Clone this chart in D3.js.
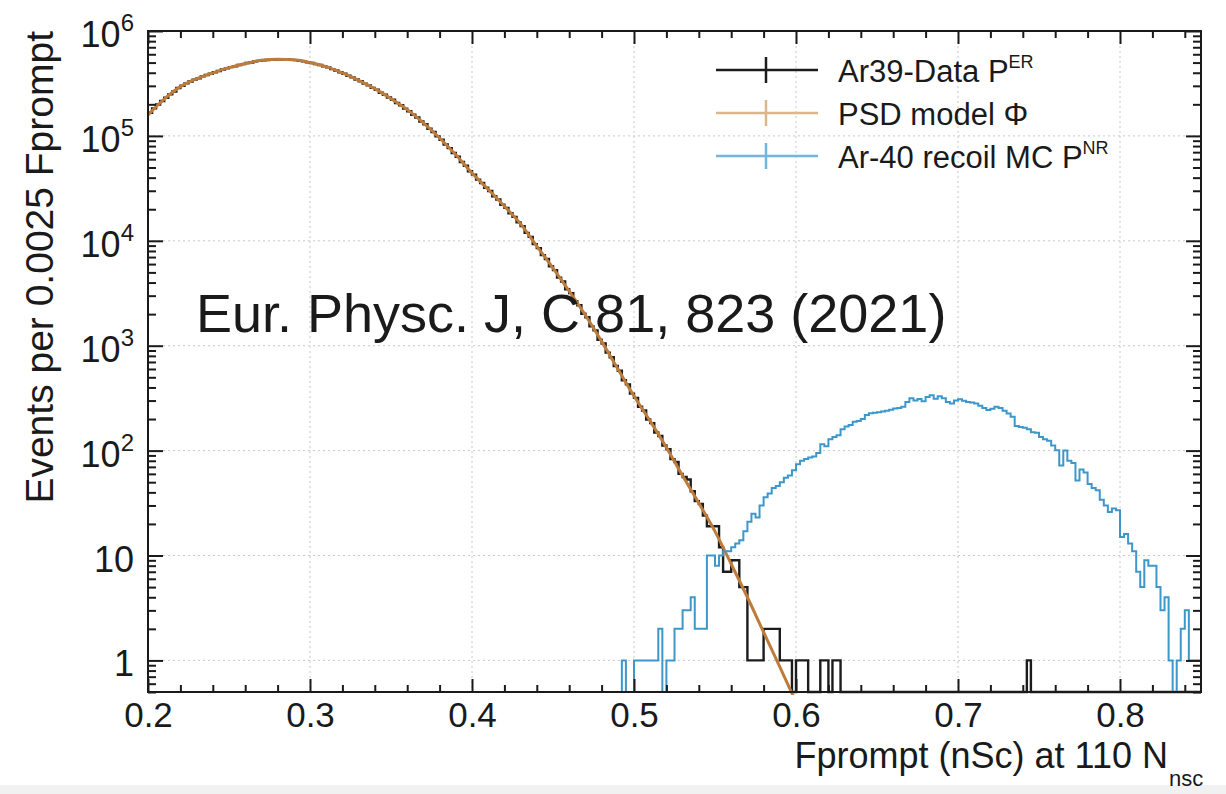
<!DOCTYPE html>
<html>
<head>
<meta charset="utf-8">
<script src="https://cdn.jsdelivr.net/npm/d3@7"></script>
<style>
  body { margin: 0; background: #fff; }
  svg text { font-family: "Liberation Sans", Arial, Helvetica, sans-serif; fill: #1a1a1a; }
</style>
</head>
<body>
<svg id="chart" width="1226" height="794"></svg>
<script>
const binWidth = 0.0025;

// Ar39 data, one count per 0.0025 bin, first bin starts at 0.2000
const ar39Start = 0.2;
const ar39Counts = [
  166000, 183000, 199000, 215000,  231000, 249000, 265000, 286000,
  301000, 317000, 330000, 344000,  355000, 369000, 381000, 391000,
  405000, 415000, 429000, 440000,  453000, 461000, 474000, 483000,
  495000, 501000, 513000, 519000,  527000, 529000, 533000, 535000,
  538000, 535000, 536000, 531000,  528000, 519000, 513000, 504000,
  496000, 483000, 474000, 461000,  450000, 433000, 420000, 404000,
  391000, 374000, 361000, 345000,  332000, 315000, 303000, 287000,
  275000, 258000, 247000, 232000,  221000, 206000, 196000, 182000,
  172000, 159000, 150000, 137000,  129000, 117000, 109000, 99000,
  91800, 82700, 76400, 68800,      63300, 56400, 51900, 46100,
  42700, 38300, 35600, 32000,      29800, 26600, 24800, 22100,
  20600, 18300, 16900, 15000,      13800, 11900, 10900, 9300,
  8520, 7310, 6700, 5720,          5250, 4460, 4090, 3450,
  3170, 2650, 2430, 2020,          1870, 1530, 1400, 1140,
  1050, 860, 775, 640,             578, 468, 428, 349,
  318, 262, 241, 198,              183, 149, 138, 112,
  103, 83, 78, 60,                 56, 53, 41, 33,
  31, 24, 19, 19,                  19, 12, 7, 7,
  9, 9, 5, 5,                      1, 1, 1, 1,
  2, 2, 2, 2,                      1, 1, 1, 0,
  1, 1, 1, 0,                      0, 0, 1, 1,
  0, 1, 1, 0
];
// isolated Ar39 bins further out: [bin start, count]
const ar39Extra = [[0.7425, 1]];

// Ar-40 recoil MC, one count per 0.0025 bin, first bin starts at 0.4900
const ar40Start = 0.49;
const ar40Counts = [
  0, 1, 0, 0,        1, 1, 1, 1,        1, 1, 2, 0,        1, 1, 2, 2,
  3, 3, 4, 2,        2, 2, 10, 10,      8, 10, 11, 11,     12, 13, 14, 17,
  21, 25, 23, 30,    36, 39, 44, 46,    50, 55, 58, 65,    74, 80, 83, 86,
  88, 95, 115, 110,  128, 135, 140, 160, 170, 175, 188, 192, 200, 218, 227, 230,
  232, 236, 240, 245, 252, 255, 262, 290, 316, 300, 310, 296, 325, 338, 312, 330,
  316, 290, 282, 300, 309, 298, 290, 288, 282, 268, 255, 244, 250, 262, 255, 240,
  226, 210, 172, 168, 165, 160, 150, 148, 135, 128, 124, 112, 101, 72, 100, 80,
  76, 52, 66, 62,    48, 44, 42, 34,    30, 26, 28, 27,    15, 16, 13, 11,
  7, 5, 9, 8,        8, 5, 3, 4,        1, 0, 1, 2,        3, 1, 1, 1
];

// PSD model curve
const psdX = [0.20, 0.21, 0.22, 0.23, 0.24, 0.25, 0.26, 0.27, 0.28, 0.29,
              0.30, 0.31, 0.32, 0.33, 0.34, 0.35, 0.36, 0.37, 0.38, 0.39,
              0.40, 0.41, 0.42, 0.43, 0.44, 0.45, 0.46, 0.47, 0.48, 0.49,
              0.50, 0.51, 0.52, 0.53, 0.54, 0.55, 0.56, 0.57, 0.58, 0.59, 0.60];
const psdY = [158500, 224000, 295000, 351000, 398000, 447000, 490000, 525000, 537000, 531000,
              501000, 457000, 398000, 339000, 282000, 226000, 178000, 133000, 95500, 66100,
              44200, 30900, 21400, 14500, 8900, 5500, 3310, 1950, 1100, 603,
              331, 191, 107, 57.5, 31.6, 17.0, 8.3, 4.0, 1.86, 0.87, 0.40];

const xTicks = [0.2, 0.3, 0.4, 0.5, 0.6, 0.7, 0.8];
const yTicks = [1, 10, 100, 1000, 10000, 100000, 1000000];
const legendLabels = [["Ar39-Data P", "ER"], ["PSD model \u03a6", ""], ["Ar-40 recoil MC P", "NR"]];
const legendColors = ["#1c1c1c", "#dab68d", "#74b5dc"];

const svg = d3.select("#chart");
const x = d3.scaleLinear().domain([0.2, 0.85]).range([148, 1201]);
const y = d3.scaleLog().domain([0.5, 1e6]).range([692, 31]);
const bottom = y.range()[0];
const yc = c => c > 0 ? y(c) : bottom;

svg.append("rect").attr("x", 0).attr("y", 785).attr("width", 1226).attr("height", 9).attr("fill", "#f1f1f1");

svg.append("defs").append("clipPath").attr("id", "plot-clip")
  .append("rect").attr("x", 148).attr("y", 31).attr("width", 1053).attr("height", 664);

// grid
const grid = svg.append("g").attr("stroke", "#c8c8c8").attr("stroke-width", 1).attr("stroke-dasharray", "2,3");
grid.selectAll("line.gx").data(xTicks.slice(1)).join("line")
  .attr("x1", d => x(d)).attr("x2", d => x(d)).attr("y1", 31).attr("y2", bottom);
grid.selectAll("line.gy").data(yTicks.slice(0, -1)).join("line")
  .attr("x1", 148).attr("x2", 1201).attr("y1", d => y(d)).attr("y2", d => y(d));

// histograms
const nBins = Math.round((0.85 - 0.2) / binWidth);
function makeBins(start, counts, extra) {
  const off = Math.round((start - 0.2) / binWidth);
  const bins = d3.range(nBins).map(i => ({ lo: 0.2 + i * binWidth, c: counts[i - off] || 0 }));
  (extra || []).forEach(([lo, c]) => { bins[Math.round((lo - 0.2) / binWidth)].c = c; });
  return bins;
}
const stepLine = d3.line().curve(d3.curveStepAfter);
function stepPath(bins) {
  const pts = bins.map(b => [x(b.lo), yc(b.c)]);
  pts.push([x(0.85), yc(bins[bins.length - 1].c)]);
  return stepLine(pts);
}

const plot = svg.append("g").attr("clip-path", "url(#plot-clip)").attr("fill", "none");

plot.append("path").attr("d", stepPath(makeBins(ar39Start, ar39Counts, ar39Extra)))
  .attr("stroke", "#1c1c1c").attr("stroke-width", 2.4);

const psdLine = d3.line().x(d => x(d[0])).y(d => y(d[1])).curve(d3.curveMonotoneX);
plot.append("path").attr("d", psdLine(psdX.map((v, i) => [v, psdY[i]])))
  .attr("stroke", "#bd7c3c").attr("stroke-width", 3);

plot.append("path").attr("d", stepPath(makeBins(ar40Start, ar40Counts)))
  .attr("stroke", "#3d97ca").attr("stroke-width", 2);

// axes, ticks pointing inward
const xMinor = d3.range(0.22, 0.85, 0.02).filter(v => Math.abs(v * 10 - Math.round(v * 10)) > 1e-6);
const yMinor = [];
[-1, 0, 1, 2, 3, 4, 5].forEach(e => d3.range(2, 10).forEach(k => {
  const v = k * Math.pow(10, e);
  if (v >= 0.5 && v <= 1e6) yMinor.push(v);
}));

function tickAxis(axis, transform) {
  const g = svg.append("g").attr("transform", transform).call(axis);
  g.select(".domain").remove();
  g.selectAll(".tick line").attr("stroke", "#1a1a1a").attr("stroke-width", 2);
  return g;
}

const xAxis = tickAxis(d3.axisBottom(x).tickValues(xTicks).tickSize(-13).tickPadding(10)
  .tickFormat(d3.format(".1f")), `translate(0,${bottom})`);
xAxis.selectAll("text").attr("font-size", 35).attr("fill", "#1a1a1a");
tickAxis(d3.axisBottom(x).tickValues(xMinor).tickSize(-7).tickFormat(""), `translate(0,${bottom})`);
tickAxis(d3.axisTop(x).tickValues(xTicks).tickSize(-13).tickFormat(""), "translate(0,31)");
tickAxis(d3.axisTop(x).tickValues(xMinor).tickSize(-7).tickFormat(""), "translate(0,31)");
tickAxis(d3.axisLeft(y).tickValues(yTicks).tickSize(-15).tickFormat(""), "translate(148,0)");
tickAxis(d3.axisLeft(y).tickValues(yMinor).tickSize(-8).tickFormat(""), "translate(148,0)");
tickAxis(d3.axisRight(y).tickValues(yTicks).tickSize(-15).tickFormat(""), "translate(1201,0)");
tickAxis(d3.axisRight(y).tickValues(yMinor).tickSize(-8).tickFormat(""), "translate(1201,0)");

svg.append("rect").attr("x", 148).attr("y", 31).attr("width", 1053).attr("height", bottom - 31)
  .attr("fill", "none").attr("stroke", "#1a1a1a").attr("stroke-width", 2);

// y tick labels with powers of ten
svg.append("g").selectAll("text").data(yTicks).join("text")
  .attr("x", 134).attr("y", d => y(d) + 16).attr("text-anchor", "end").attr("font-size", 36)
  .each(function (d) {
    const t = d3.select(this);
    const e = Math.round(Math.log10(d));
    if (e < 2) { t.text(d); return; }
    t.append("tspan").text("10");
    t.append("tspan").attr("font-size", 24).attr("dy", -16).text(e);
  });

// axis titles
svg.append("text").attr("transform", "translate(53,31) rotate(-90)")
  .attr("text-anchor", "end").attr("font-size", 39).text("Events per 0.0025 Fprompt");

svg.append("text").attr("x", 1168).attr("y", 768).attr("text-anchor", "end").attr("font-size", 36)
  .text("Fprompt (nSc) at 110 N");
svg.append("text").attr("x", 1169).attr("y", 786).attr("font-size", 22).text("nsc");

// annotation
svg.append("text").attr("x", 196).attr("y", 332).attr("font-size", 54).attr("fill", "#111")
  .text("Eur. Physc. J, C 81, 823 (2021)");

// legend
const leg = svg.append("g").selectAll("g").data(legendLabels).join("g")
  .attr("transform", (d, i) => `translate(0,${70 + i * 43})`);
leg.append("line").attr("x1", 716).attr("x2", 818).attr("y1", 0).attr("y2", 0)
  .attr("stroke", (d, i) => legendColors[i]).attr("stroke-width", 2.5);
leg.append("line").attr("x1", 766).attr("x2", 766).attr("y1", -13).attr("y2", 13)
  .attr("stroke", (d, i) => legendColors[i]).attr("stroke-width", 2.5);
leg.append("text").attr("x", 838).attr("y", 12).attr("font-size", 31)
  .each(function (d) {
    const t = d3.select(this);
    t.append("tspan").text(d[0]);
    if (d[1]) t.append("tspan").attr("font-size", 18).attr("dy", -14).text(d[1]);
  });
</script>
</body>
</html>
